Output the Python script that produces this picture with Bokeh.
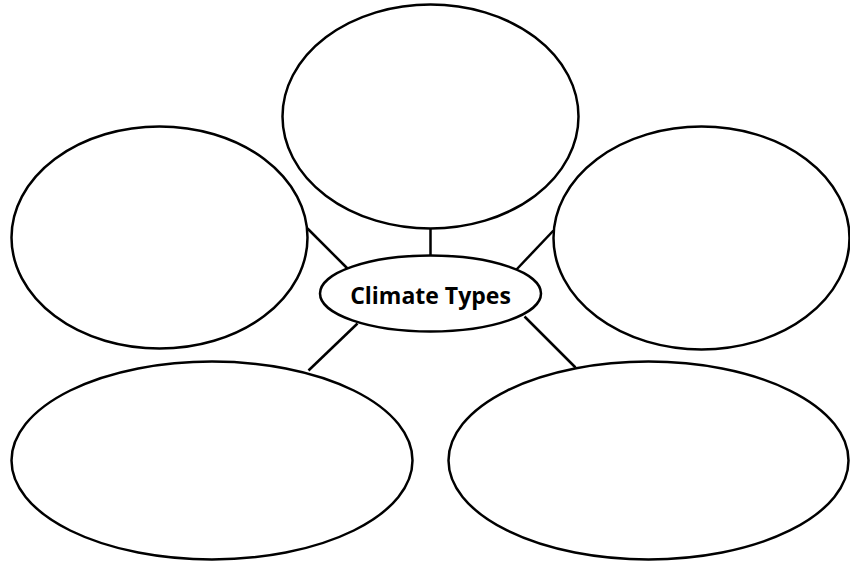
from bokeh.plotting import figure
from bokeh.models import Range1d, ColumnDataSource
from bokeh.core.properties import value
from bokeh.embed import file_html
from bokeh.resources import INLINE

# Diagram nodes (reference pixel coordinates, y downward)
node_names = ["top", "left", "right", "bottom_left", "bottom_right", "center"]
node_x = [430, 159, 701, 211.5, 648, 430]
node_y = [116, 237, 237.5, 460, 460, 293]
node_w = [296, 296, 296, 401, 400, 221]
node_h = [224, 222, 223, 198, 198, 76]

# Connectors from outer nodes to the centre node
link_x0 = [430, 307, 553, 308, 575]
link_y0 = [228, 228, 230, 370, 367]
link_x1 = [430, 347, 516, 357, 524]
link_y1 = [255, 268, 269, 323, 316]

center_label = "Climate Types"

p = figure(width=850, height=563, output_backend="svg", toolbar_location=None,
           x_range=Range1d(0, 850), y_range=Range1d(563, 0),
           min_border=0, background_fill_color="white", border_fill_color="white")
p.axis.visible = False
p.grid.visible = False
p.outline_line_color = None

p.segment(x0=link_x0, y0=link_y0, x1=link_x1, y1=link_y1,
          line_color="black", line_width=2.5)

src = ColumnDataSource(dict(x=node_x, y=node_y, w=node_w, h=node_h, name=node_names))
p.ellipse(x="x", y="y", width="w", height="h", source=src,
          fill_color="white", line_color="black", line_width=2.5)

p.text(x=[430], y=[294], text=[center_label], text_align="center",
       text_baseline="middle", text_font=value("Open Sans"),
       text_font_style="bold", text_font_size="23px", text_color="black")

open("out.html", "w").write(file_html(p, INLINE))
